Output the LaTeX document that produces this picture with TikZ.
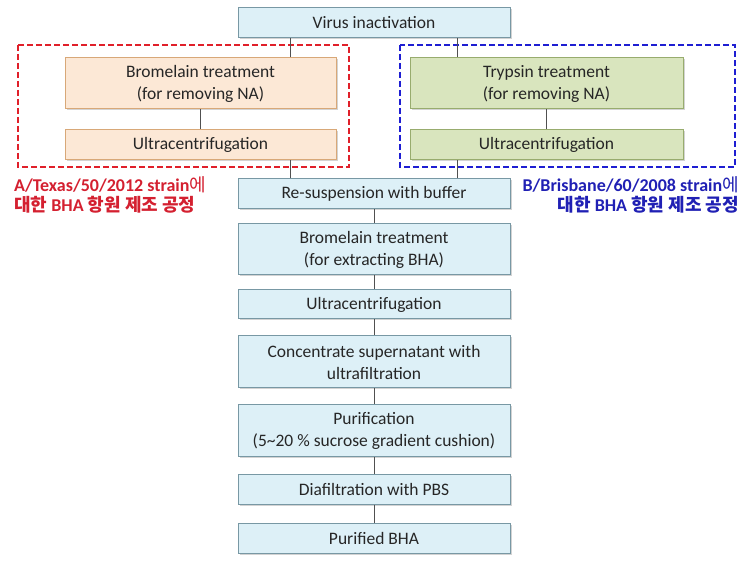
\documentclass[tikz,border=0pt]{standalone}
\usepackage{fontspec}
\setmainfont{Carlito}
\newfontfamily\kr{Noto Sans CJK KR}
\usetikzlibrary{shadows}
\definecolor{bfill}{HTML}{DDF0F7}
\definecolor{bdraw}{HTML}{7898A4}
\definecolor{ofill}{HTML}{FCE8D6}
\definecolor{odraw}{HTML}{D8A878}
\definecolor{gfill}{HTML}{D9E5BE}
\definecolor{gdraw}{HTML}{98AC6E}
\definecolor{redd}{HTML}{E0202A}
\definecolor{blued}{HTML}{1E1ED2}
\definecolor{redt}{HTML}{D42030}
\definecolor{bluet}{HTML}{2020B4}
\definecolor{conn}{HTML}{505050}
\tikzset{
  proc/.style={rectangle, draw=bdraw, fill=bfill, line width=1pt, align=center,
    font=\fontsize{17.5}{22}\selectfont, inner sep=0pt, text=black!85,
    drop shadow={shadow xshift=1.5pt, shadow yshift=-1.5pt, opacity=0.35, fill=black!50}},
  bluebox/.style={proc, minimum width=272pt},
  orangebox/.style={proc, draw=odraw, fill=ofill, minimum width=271pt},
  greenbox/.style={proc, draw=gdraw, fill=gfill, minimum width=273pt},
  line/.style={draw=conn, line width=1pt},
  reddash/.style={draw=redd, line width=1.6pt, dash pattern=on 6pt off 3pt},
  bluedash/.style={draw=blued, line width=1.6pt, dash pattern=on 6pt off 3pt},
  lab/.style={font=\fontsize{18}{20}\selectfont\bfseries, inner sep=0pt}
}
\newcommand{\krt}[1]{{\kr\fontsize{18}{20}\selectfont #1}}
\newcommand{\krl}[1]{{\kr\mdseries\fontsize{18}{20}\selectfont #1}}
\begin{document}
\begin{tikzpicture}[x=1pt,y=-1pt]
\useasboundingbox (0,0) rectangle (753,561);
% dashed groups
\draw[reddash] (18,45) rectangle (349,167);
\draw[bluedash] (400,45) rectangle (735,167);
% main column
\node[bluebox, minimum height=30pt] (v) at (374,23) {Virus inactivation};
\node[bluebox, minimum height=30pt] (r) at (374,194) {Re-suspension with buffer};
\node[bluebox, minimum height=51pt] (b2) at (374,249.5) {Bromelain treatment\\(for extracting BHA)};
\node[bluebox, minimum height=29pt] (u2) at (374,304.5) {Ultracentrifugation};
\node[bluebox, minimum height=52pt] (c) at (374,362) {Concentrate supernatant with\\ultrafiltration};
\node[bluebox, minimum height=52pt] (p) at (374,431) {Purification\\(5\textasciitilde 20 \% sucrose gradient cushion)};
\node[bluebox, minimum height=30pt] (d) at (374,489) {Diafiltration with PBS};
\node[bluebox, minimum height=30pt] (f) at (374,538) {Purified BHA};
% left branch
\node[orangebox, minimum height=51pt] (ob) at (200.5,83.5) {Bromelain treatment\\(for removing NA)};
\node[orangebox, minimum height=30pt] (ou) at (200.5,145) {Ultracentrifugation};
% right branch
\node[greenbox, minimum height=51pt] (gb) at (546.5,83.5) {Trypsin treatment\\(for removing NA)};
\node[greenbox, minimum height=30pt] (gu) at (546.5,145) {Ultracentrifugation};
% connectors
\draw[line] ([xshift=-84pt]v.south) -- ([xshift=-84pt]v.south |- ob.north);
\draw[line] ([xshift=83pt]v.south) -- ([xshift=83pt]v.south |- gb.north);
\draw[line] (ob) -- (ou);
\draw[line] (gb) -- (gu);
\draw[line] ([xshift=-84pt]r.north) -- ([xshift=-84pt]r.north |- ou.south);
\draw[line] ([xshift=83pt]r.north) -- ([xshift=83pt]r.north |- gu.south);
\draw[line] (r) -- (b2);
\draw[line] (b2) -- (u2);
\draw[line] (u2) -- (c);
\draw[line] (c) -- (p);
\draw[line] (p) -- (d);
\draw[line] (d) -- (f);
% labels
\node[lab, text=redt, anchor=west] (la1) at (14,185) {A/Texas/50/2012 strain\krl{에}};
\node[lab, text=redt, anchor=west] (la2) at (14,205) {\krt{대한} BHA \krt{항원 제조 공정}};
\node[lab, text=bluet, anchor=east] (lb1) at (739,185) {B/Brisbane/60/2008 strain\krl{에}};
\node[lab, text=bluet, anchor=east] (lb2) at (739,205) {\krt{대한} BHA \krt{항원 제조 공정}};
\end{tikzpicture}
\end{document}
